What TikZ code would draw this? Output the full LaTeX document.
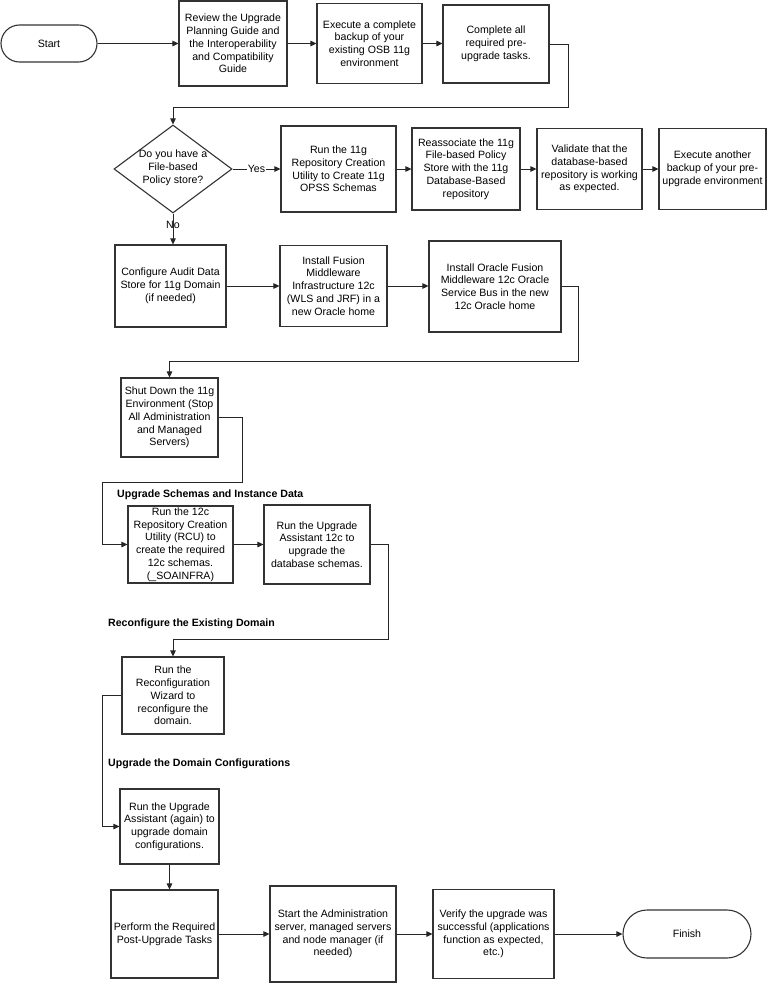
\documentclass[tikz,border=0pt]{standalone}
\usepackage{fontspec}
\setmainfont{Liberation Sans}
\usetikzlibrary{arrows.meta,shapes.geometric}
\begin{document}
\begin{tikzpicture}[x=1pt,y=-1pt,
  txt/.style={font=\fontsize{10.6}{12.8}\selectfont, align=center},
  box/.style={txt, draw=black!80, line width=1.1pt, inner sep=1pt},
  arr/.style={draw=black!85, line width=0.9pt, -{Triangle[length=6pt,width=5.5pt]}},
  lbl/.style={font=\bfseries\fontsize{10.6}{12.8}\selectfont, anchor=base west, inner sep=0pt},
]
\useasboundingbox (0,0) rectangle (768,985);

% row 1
\node[box, rounded corners=18.5pt, minimum width=96pt, minimum height=37pt] (start) at (49,43.5) {Start};
\node[box, minimum width=108pt, minimum height=85pt] (review) at (233,43.5) {Review the Upgrade\\Planning Guide and\\the Interoperability\\and Compatibility\\Guide};
\node[box, minimum width=105pt, minimum height=80pt] (exec) at (369.5,43.5) {Execute a complete\\backup of your\\existing OSB 11g\\environment};
\node[box, minimum width=106pt, minimum height=78pt] (complete) at (496,44) {Complete all\\required pre-\\upgrade tasks.};

% row 2
\node[draw=black!80, line width=1.1pt, diamond, minimum width=118pt, minimum height=88pt, inner sep=0pt] (dia) at (173,169) {};
\node[txt] (diat) at (173,168) {Do you have a\\File-based\\Policy store?};
\node[box, minimum width=115pt, minimum height=86pt] (run11g) at (338.5,169) {Run the 11g\\Repository Creation\\Utility to Create 11g\\OPSS Schemas};
\node[box, minimum width=108pt, minimum height=82pt] (reassoc) at (466,169) {Reassociate the 11g\\File-based Policy\\Store with the 11g\\Database-Based\\repository};
\node[box, minimum width=105pt, minimum height=81pt] (validate) at (589.5,169) {Validate that the\\database-based\\repository is working\\as expected.};
\node[box, minimum width=107pt, minimum height=81pt] (another) at (712.5,169) {Execute another\\backup of your pre-\\upgrade environment};

% row 3
\node[box, minimum width=111pt, minimum height=82pt] (configure) at (170.5,286) {Configure Audit Data\\Store for 11g Domain\\(if needed)};
\node[box, minimum width=107pt, minimum height=81pt] (installfus) at (333.5,286) {Install Fusion\\Middleware\\Infrastructure 12c\\(WLS and JRF) in a\\new Oracle home};
\node[box, minimum width=132pt, minimum height=91pt] (installora) at (495,286.5) {Install Oracle Fusion\\Middleware 12c Oracle\\Service Bus in the new\\12c Oracle home};

% shut down
\node[box, minimum width=97pt, minimum height=79pt] (shutdown) at (169.5,417.5) {Shut Down the 11g\\Environment (Stop\\All Administration\\and Managed\\Servers)};

% upgrade schemas
\node[lbl] (lblA) at (117,497) {Upgrade Schemas and Instance Data};
\node[box, minimum width=105pt, minimum height=77pt] (rcu) at (180.5,544.5) {Run the 12c\\Repository Creation\\Utility (RCU) to\\create the required\\12c schemas.\\(\_SOAINFRA)};
\node[box, minimum width=106pt, minimum height=79pt] (ua) at (317,544.5) {Run the Upgrade\\Assistant 12c to\\upgrade the\\database schemas.};

% reconfigure
\node[lbl] (lblB) at (108,626) {Reconfigure the Existing Domain};
\node[box, minimum width=102pt, minimum height=77pt] (reconfig) at (173,695.5) {Run the\\Reconfiguration\\Wizard to\\reconfigure the\\domain.};

% domain configurations
\node[lbl] (lblC) at (108,766) {Upgrade the Domain Configurations};
\node[box, minimum width=99pt, minimum height=75pt] (ua2) at (169.5,826.5) {Run the Upgrade\\Assistant (again) to\\upgrade domain\\configurations.};

% last row
\node[box, minimum width=107pt, minimum height=88pt] (perform) at (164.5,934) {Perform the Required\\Post-Upgrade Tasks};
\node[box, minimum width=126pt, minimum height=96pt] (startadmin) at (333,934) {Start the Administration\\server, managed servers\\and node manager (if\\needed)};
\node[box, minimum width=121pt, minimum height=89pt] (verify) at (493.5,934) {Verify the upgrade was\\successful (applications\\function as expected,\\etc.)};
\node[box, rounded corners=24pt, minimum width=128pt, minimum height=48pt] (finish) at (687,934) {Finish};

% bend coordinates
\coordinate (k1) at (568,107);
\coordinate (k2) at (578,361);
\coordinate (k3) at (242,482);
\coordinate (k4) at (102,482);
\coordinate (k5) at (388,639);
\coordinate (k6) at (102,695.5);

% connectors
\draw[arr] (start.east) -- (review.west);
\draw[arr] (review.east) -- (review.east -| exec.west);
\draw[arr] (exec.east) -- (exec.east -| complete.west);
\draw[arr] (complete.east) -| (k1) -| (dia.north);
\draw[arr] (dia.east) -- node[txt, fill=white, inner sep=1pt] (yes) {Yes} (run11g.west);
\draw[arr] (run11g.east) -- (reassoc.west);
\draw[arr] (reassoc.east) -- (validate.west);
\draw[arr] (validate.east) -- (another.west);
\draw[arr] (dia.south) -- node[txt, pos=0.38, inner sep=0pt] (no) {No} (configure.north -| dia.south);
\draw[arr] (configure.east) -- (configure.east -| installfus.west);
\draw[arr] (installfus.east) -- (installfus.east -| installora.west);
\draw[arr] (installora.east) -| (k2) -| (shutdown.north);
\draw[arr] (shutdown.east) -| (k3) -- (k4) |- (rcu.west);
\draw[arr] (rcu.east) -- (rcu.east -| ua.west);
\draw[arr] (ua.east) -| (k5) -| (reconfig.north);
\draw[arr] (reconfig.west) -- (k6) |- (ua2.west);
\draw[arr] (ua2.south) -- (ua2.south |- perform.north);
\draw[arr] (perform.east) -- (startadmin.west);
\draw[arr] (startadmin.east) -- (verify.west);
\draw[arr] (verify.east) -- (finish.west);
\end{tikzpicture}
\end{document}
